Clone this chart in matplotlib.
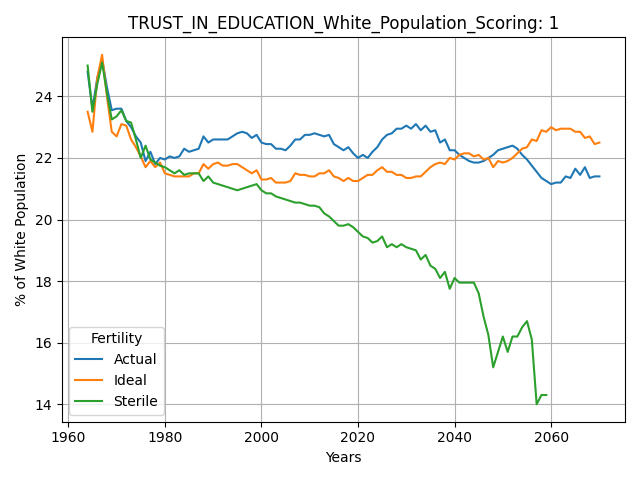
import matplotlib
matplotlib.use("Agg")
import matplotlib.pyplot as plt

years = list(range(1964, 2071))
years_sterile = list(range(1964, 2060))

actual = [24.8, 23.6, 24.6, 25.2, 24.3, 23.55, 23.6, 23.6, 23.2, 23.0,
          22.7, 22.5, 21.9, 22.2, 21.8, 22.0, 21.95, 22.05, 22.0, 22.05,
          22.3, 22.2, 22.25, 22.3, 22.7, 22.5, 22.6, 22.6, 22.6, 22.6,
          22.7, 22.8, 22.85, 22.8, 22.65, 22.75, 22.5, 22.45, 22.45, 22.3,
          22.3, 22.25, 22.4, 22.6, 22.6, 22.75, 22.75, 22.8, 22.75, 22.7,
          22.75, 22.45, 22.35, 22.25, 22.35, 22.15, 22.0, 22.1, 22.0, 22.2,
          22.35, 22.6, 22.75, 22.8, 22.95, 22.95, 23.05, 22.95, 23.1, 22.9,
          23.05, 22.85, 22.9, 22.5, 22.6, 22.25, 22.25, 22.1, 22.0, 21.9,
          21.85, 21.85, 21.9, 22.0, 22.1, 22.25, 22.3, 22.35, 22.4, 22.3,
          22.1, 21.95, 21.75, 21.55, 21.35, 21.25, 21.15, 21.2, 21.2, 21.4,
          21.35, 21.65, 21.45, 21.7, 21.35, 21.4, 21.4]
ideal = [23.5, 22.85, 24.6, 25.35, 24.0, 22.85, 22.7, 23.1, 23.05, 22.6,
         22.35, 22.05, 21.7, 21.9, 21.7, 21.85, 21.5, 21.45, 21.4, 21.4,
         21.4, 21.4, 21.5, 21.5, 21.8, 21.65, 21.8, 21.85, 21.75, 21.75,
         21.8, 21.8, 21.7, 21.6, 21.5, 21.6, 21.3, 21.3, 21.35, 21.2,
         21.2, 21.2, 21.25, 21.5, 21.45, 21.45, 21.4, 21.4, 21.5, 21.5,
         21.6, 21.4, 21.35, 21.25, 21.35, 21.25, 21.25, 21.35, 21.45, 21.45,
         21.6, 21.7, 21.55, 21.55, 21.45, 21.45, 21.35, 21.35, 21.4, 21.4,
         21.55, 21.7, 21.8, 21.85, 21.8, 22.0, 21.95, 22.1, 22.15, 22.15,
         22.05, 22.1, 21.95, 22.0, 21.7, 21.9, 21.85, 21.9, 22.0, 22.15,
         22.3, 22.35, 22.6, 22.55, 22.9, 22.85, 23.0, 22.9, 22.95, 22.95,
         22.95, 22.85, 22.85, 22.65, 22.7, 22.45, 22.5]
sterile = [25.0, 23.5, 24.4, 25.1, 24.1, 23.25, 23.35, 23.55, 23.2, 23.15,
           22.6, 22.0, 22.4, 21.95, 21.85, 21.75, 21.7, 21.6, 21.5, 21.6,
           21.45, 21.5, 21.5, 21.5, 21.25, 21.4, 21.2, 21.15, 21.1, 21.05,
           21.0, 20.95, 21.0, 21.05, 21.1, 21.15, 20.95, 20.85, 20.85, 20.75,
           20.7, 20.65, 20.6, 20.55, 20.55, 20.5, 20.45, 20.45, 20.4, 20.2,
           20.1, 19.95, 19.8, 19.8, 19.85, 19.75, 19.6, 19.45, 19.4, 19.25,
           19.3, 19.45, 19.1, 19.2, 19.1, 19.2, 19.1, 19.05, 19.0, 18.7,
           18.85, 18.5, 18.4, 18.1, 18.3, 17.75, 18.1, 17.95, 17.95, 17.95,
           17.95, 17.6, 16.85, 16.25, 15.2, 15.7, 16.2, 15.7, 16.2, 16.2,
           16.5, 16.7, 16.1, 14.0, 14.3, 14.3]

fig, ax = plt.subplots(figsize=(6.4, 4.8), dpi=100)
ax.plot(years, actual, label="Actual")
ax.plot(years, ideal, label="Ideal")
ax.plot(years_sterile, sterile, label="Sterile")
ax.set_title("TRUST_IN_EDUCATION_White_Population_Scoring: 1")
ax.set_xlabel("Years")
ax.set_ylabel("% of White Population")
ax.grid(True, color="#b0b0b0")
ax.legend(title="Fertility", loc="lower left")
fig.tight_layout()
fig.savefig("out.png")
